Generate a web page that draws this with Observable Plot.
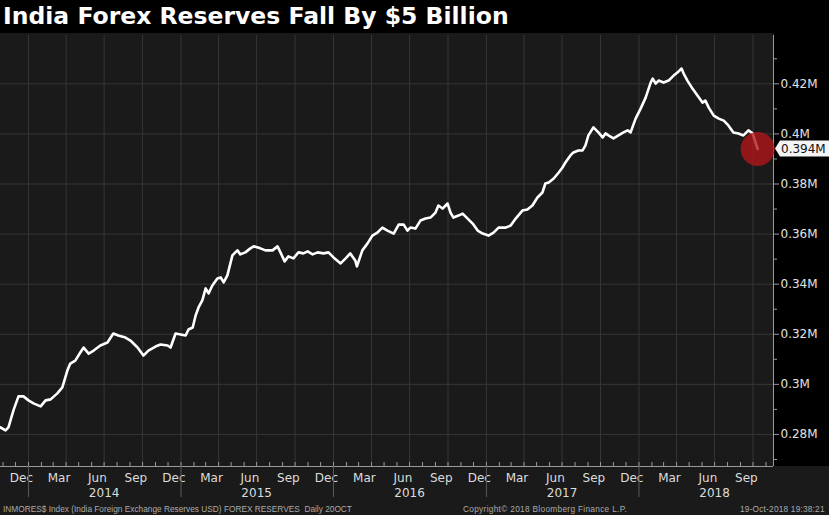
<!DOCTYPE html>
<html><head><meta charset="utf-8">
<script src="https://cdn.jsdelivr.net/npm/d3@7"></script>
<script src="https://cdn.jsdelivr.net/npm/@observablehq/plot@0.6"></script>
<style>
html,body{margin:0;padding:0;background:#1a1a1a;width:829px;height:515px;overflow:hidden;position:relative;font-family:"DejaVu Sans",sans-serif}
#title{position:absolute;left:0;top:0;width:829px;height:33px;background:#000;color:#fff;font:bold 23.5px "DejaVu Sans";line-height:33px;padding-left:3px;box-sizing:border-box;white-space:nowrap}
#rstrip{position:absolute;left:774px;top:33px;width:55px;height:433px;background:#000}
#chart{position:absolute;left:0;top:33px}
.foot{position:absolute;top:504px;font:8.3px "Liberation Sans";color:#aaa;white-space:nowrap;line-height:10px}
</style></head><body>
<div id="title">India Forex Reserves Fall By $5 Billion</div>
<div id="rstrip"></div>
<div id="chart"></div>
<div class="foot" style="left:3px">INMORES$ Index (India Foreign Exchange Reserves USD) FOREX RESERVES&nbsp; Daily 20OCT</div>
<div class="foot" style="left:463px;letter-spacing:0.3px">Copyright© 2018 Bloomberg Finance L.P.</div>
<div class="foot" style="left:740px;letter-spacing:0.2px">19-Oct-2018 19:38:21</div>
<script>
const dates = [
"2013-10-26","2013-11-07","2013-11-14","2013-11-26","2013-12-08","2013-12-20",
"2014-01-01","2014-01-13","2014-01-30","2014-02-11","2014-02-23","2014-03-11","2014-03-23","2014-04-04","2014-04-11","2014-04-23","2014-05-05","2014-05-13","2014-05-25","2014-06-06","2014-06-22","2014-07-09","2014-07-23","2014-08-04","2014-08-21","2014-09-02","2014-09-19","2014-10-03","2014-10-15","2014-11-01","2014-11-13","2014-11-30","2014-12-07","2014-12-19","2014-12-31",
"2015-01-12","2015-01-19","2015-01-29","2015-02-05","2015-02-12","2015-02-21","2015-03-01","2015-03-08","2015-03-17","2015-03-29","2015-04-06","2015-04-13","2015-04-22","2015-04-25","2015-05-04","2015-05-11","2015-05-16","2015-05-23","2015-06-04","2015-06-16","2015-06-24","2015-07-10","2015-07-22","2015-08-08","2015-08-20","2015-08-27","2015-09-06","2015-09-15","2015-09-27","2015-10-09","2015-10-21","2015-10-31","2015-11-12","2015-11-24","2015-12-08","2015-12-20",
"2016-01-01","2016-01-18","2016-01-30","2016-02-10","2016-02-22","2016-02-26","2016-03-10","2016-03-22","2016-04-03","2016-04-15","2016-04-27","2016-05-09","2016-05-24","2016-06-05","2016-06-17","2016-06-26","2016-07-03","2016-07-15","2016-07-27","2016-08-08","2016-08-20","2016-09-01","2016-09-08","2016-09-18","2016-09-30","2016-10-07","2016-10-14","2016-10-26","2016-11-05","2016-11-17","2016-11-29","2016-12-11","2016-12-23",
"2017-01-06","2017-01-18","2017-01-30","2017-02-16","2017-02-28","2017-03-12","2017-03-28","2017-04-09","2017-04-21","2017-05-03","2017-05-15","2017-05-22","2017-05-30","2017-06-11","2017-06-23","2017-07-02","2017-07-09","2017-07-21","2017-07-28","2017-08-09","2017-08-19","2017-08-26","2017-09-02","2017-09-14","2017-09-26","2017-10-06","2017-10-13","2017-10-20","2017-11-01","2017-11-13","2017-11-25","2017-12-05","2017-12-12","2017-12-24",
"2018-01-05","2018-01-17","2018-01-29","2018-02-03","2018-02-10","2018-02-17","2018-03-01","2018-03-13","2018-03-25","2018-04-03","2018-04-13","2018-04-18","2018-04-27","2018-05-09","2018-05-21","2018-06-02","2018-06-09","2018-06-17","2018-06-29","2018-07-11","2018-07-23","2018-08-03","2018-08-15","2018-08-27","2018-09-08","2018-09-20","2018-09-30","2018-10-12"
];
const values = [
0.2828,0.2816,0.2828,0.2896,0.2952,0.2952,
0.2936,0.2924,0.2912,0.2936,0.2940,0.2964,0.2988,0.3055,0.3083,0.3095,0.3127,0.3147,0.3123,0.3135,0.3155,0.3167,0.3203,0.3195,0.3187,0.3175,0.3147,0.3115,0.3135,0.3151,0.3159,0.3155,0.3147,0.3203,0.3199,
0.3195,0.3219,0.3227,0.3275,0.3307,0.3335,0.3383,0.3363,0.3395,0.3423,0.3427,0.3407,0.3435,0.3455,0.3515,0.3527,0.3535,0.3519,0.3527,0.3543,0.3551,0.3543,0.3535,0.3535,0.3551,0.3527,0.3491,0.3511,0.3503,0.3527,0.3523,0.3531,0.3519,0.3527,0.3523,0.3527,
0.3507,0.3483,0.3503,0.3523,0.3495,0.3471,0.3535,0.3562,0.3594,0.3606,0.3626,0.3614,0.3602,0.3638,0.3638,0.3614,0.3626,0.3622,0.3654,0.3662,0.3666,0.3686,0.3714,0.3702,0.3722,0.3686,0.3666,0.3674,0.3682,0.3662,0.3642,0.3614,0.3602,
0.3594,0.3606,0.3626,0.3626,0.3634,0.3662,0.3694,0.3698,0.3714,0.3746,0.3766,0.3802,0.3806,0.3822,0.3846,0.3866,0.3886,0.3914,0.3926,0.3934,0.3934,0.3954,0.3994,0.4026,0.4006,0.3986,0.4002,0.3994,0.3982,0.3994,0.4006,0.4014,0.4006,0.4061,
0.4101,0.4145,0.4205,0.4221,0.4201,0.4213,0.4205,0.4213,0.4233,0.4245,0.4261,0.4241,0.4213,0.4181,0.4153,0.4125,0.4133,0.4105,0.4073,0.4061,0.4053,0.4034,0.4006,0.4002,0.3994,0.4014,0.4002,0.3940
];
const lastLabel = "0.394M";
const xDomain = ["2013-10-26", "2018-11-19"];
const yDomain = [0.2672, 0.4393];
const yMajor = [0.28, 0.30, 0.32, 0.34, 0.36, 0.38, 0.40, 0.42];
const yMinor = [0.27, 0.29, 0.31, 0.33, 0.35, 0.37, 0.39, 0.41, 0.43];
const monthLabelDates = ["2013-12-15","2014-03-15","2014-06-15","2014-09-15","2014-12-15","2015-03-15","2015-06-15","2015-09-15","2015-12-15","2016-03-15","2016-06-15","2016-09-15","2016-12-15","2017-03-15","2017-06-15","2017-09-15","2017-12-15","2018-03-15","2018-06-15","2018-09-15"];
const yearLabelDates = ["2014-07-01","2015-07-01","2016-07-01","2017-07-01","2018-07-01"];
const yearStartDates = ["2014-01-01","2015-01-01","2016-01-01","2017-01-01","2018-01-01"];
const quarterDates = ["2014-01-01","2014-04-01","2014-07-01","2014-10-01","2015-01-01","2015-04-01","2015-07-01","2015-10-01","2016-01-01","2016-04-01","2016-07-01","2016-10-01","2017-01-01","2017-04-01","2017-07-01","2017-10-01","2018-01-01","2018-04-01","2018-07-01","2018-10-01"];
const monthStartDates = [];
for (let y = 2013; y <= 2018; y++) for (let m = 1; m <= 12; m++) {
  const s = `${y}-${String(m).padStart(2,"0")}-01`;
  if (s > xDomain[0] && s < xDomain[1]) monthStartDates.push(s);
}

const D = s => new Date(s);
const data = dates.map((d, i) => ({date: D(d), value: values[i]}));
const last = data[data.length - 1];
const fmtY = v => `${+v.toFixed(2)}M`;

const labelMark = (index, scales) => {
  const y = scales.y(last.value);
  const x0 = scales.x(D(xDomain[1])) + 2;
  const g = d3.create("svg:g");
  g.append("path")
    .attr("d", `M${x0},${y}L${x0+5},${y-8}H${x0+60}V${y+8}H${x0+5}Z`)
    .attr("fill", "#f4f4f4");
  g.append("text")
    .attr("x", x0 + 6).attr("y", y).attr("dy", "0.36em")
    .attr("text-anchor", "start")
    .attr("fill", "#111").attr("font-size", 12).attr("font-family", "DejaVu Sans")
    .text(lastLabel);
  return g.node();
};

const chart = Plot.plot({
  width: 829, height: 482,
  marginTop: 2, marginBottom: 49, marginLeft: 0, marginRight: 56,
  style: {background: "transparent", color: "#ddd", fontFamily: "DejaVu Sans", fontSize: "12px", overflow: "visible"},
  x: {type: "utc", domain: xDomain.map(D), label: null},
  y: {domain: yDomain, label: null},
  marks: [
    Plot.gridX(quarterDates.map(D), {stroke: "#363636", strokeOpacity: 1}),
    Plot.gridY(yMajor, {stroke: "#363636", strokeOpacity: 1}),
    Plot.ruleX([D(xDomain[1])], {stroke: "#9a9a9a"}),
    Plot.ruleY([yDomain[0]], {stroke: "#9a9a9a"}),
    Plot.axisY(yMajor, {anchor: "right", tickSize: 5, tickPadding: 2, tickFormat: fmtY, color: "#e2e2e2", stroke: "#9a9a9a", label: null}),
    Plot.axisY(yMinor, {anchor: "right", tickSize: 3, tickFormat: () => "", stroke: "#9a9a9a", label: null}),
    Plot.axisX(monthLabelDates.map(D), {tickSize: 0, tickPadding: 7, tickFormat: d3.utcFormat("%b"), color: "#dcdcdc", label: null}),
    Plot.axisX(yearLabelDates.map(D), {tickSize: 0, tickPadding: 22, tickFormat: d3.utcFormat("%Y"), color: "#dcdcdc", label: null}),
    Plot.axisX(yearStartDates.map(D), {tickSize: 31, tickFormat: () => "", stroke: "#5a5a5a", label: null}),
    Plot.axisX(monthStartDates.map(D), {tickSize: -4, tickFormat: () => "", stroke: "#9a9a9a", label: null}),
    Plot.line(data, {x: "date", y: "value", stroke: "#ffffff", strokeWidth: 2.6, strokeLinejoin: "round", strokeLinecap: "round"}),
    Plot.dot([last], {x: "date", y: "value", r: 17, fill: "#b3161a", fillOpacity: 0.78, stroke: "none"}),
    labelMark
  ]
});
document.getElementById("chart").appendChild(chart);
</script>
</body></html>
